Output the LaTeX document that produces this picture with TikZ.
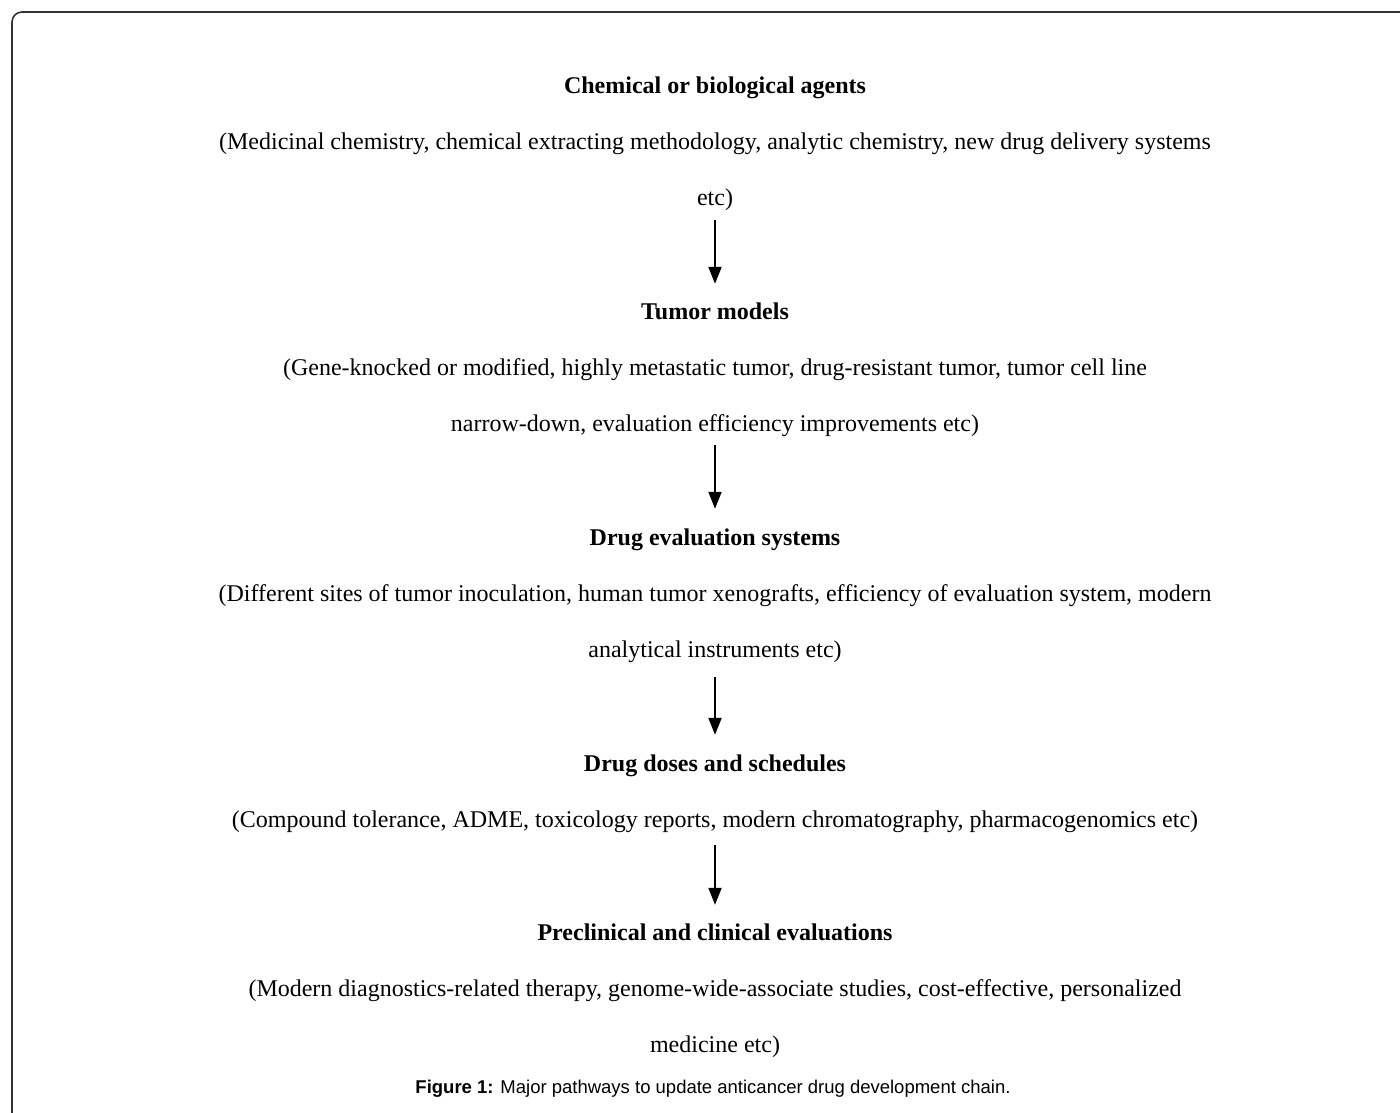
\documentclass[tikz,border=0pt]{standalone}
\usepackage{fontspec}
\setmainfont{Liberation Serif}
\newfontfamily\capfont{Liberation Sans}
\usetikzlibrary{arrows.meta}
\tikzset{
  txt/.style={inner sep=0pt, font=\fontsize{24}{28}\selectfont, text height=16pt, text depth=5pt, anchor=center},
  ttl/.style={txt, font=\fontsize{24}{28}\selectfont\bfseries},
  flow/.style={line width=2pt, -{Triangle[length=17pt,width=13pt]}},
  frame/.style={line width=1.6pt, draw=black!80, rounded corners=10pt}
}
\begin{document}
\begin{tikzpicture}[x=1pt,y=-1pt]
\useasboundingbox (0,0) rectangle (1400,1113);
\draw[frame] (12,1113) -- (12,12) -- (1400,12);

\node[ttl] (t1) at (715,88) {Chemical or biological agents};
\node[txt] (d1a) at (715,144) {(Medicinal chemistry, chemical extracting methodology, analytic chemistry, new drug delivery systems};
\node[txt] (d1b) at (715,200) {etc)};

\node[ttl] (t2) at (715,314) {Tumor models};
\node[txt] (d2a) at (715,370) {(Gene-knocked or modified, highly metastatic tumor, drug-resistant tumor, tumor cell line};
\node[txt] (d2b) at (715,426) {narrow-down, evaluation efficiency improvements etc)};

\node[ttl] (t3) at (715,540) {Drug evaluation systems};
\node[txt] (d3a) at (715,596) {(Different sites of tumor inoculation, human tumor xenografts, efficiency of evaluation system, modern};
\node[txt] (d3b) at (715,652) {analytical instruments etc)};

\node[ttl] (t4) at (715,766) {Drug doses and schedules};
\node[txt] (d4a) at (715,822) {(Compound tolerance, ADME, toxicology reports, modern chromatography, pharmacogenomics etc)};

\node[ttl] (t5) at (715,935) {Preclinical and clinical evaluations};
\node[txt] (d5a) at (715,991) {(Modern diagnostics-related therapy, genome-wide-associate studies, cost-effective, personalized};
\node[txt] (d5b) at (715,1047) {medicine etc)};

\node[inner sep=0pt, font=\capfont\fontsize{18.5}{21}\selectfont] (cap) at (713,1089) {\textbf{Figure 1:} Major pathways to update anticancer drug development chain.};

\draw[flow] ([yshift=-9.5pt]d1b.south) -- ([yshift=19.5pt]t2.north);
\draw[flow] ([yshift=-8.5pt]d2b.south) -- ([yshift=20.5pt]t3.north);
\draw[flow] ([yshift=-14.5pt]d3b.south) -- ([yshift=20.5pt]t4.north);
\draw[flow] ([yshift=-12.5pt]d4a.south) -- ([yshift=19.5pt]t5.north);
\end{tikzpicture}
\end{document}
